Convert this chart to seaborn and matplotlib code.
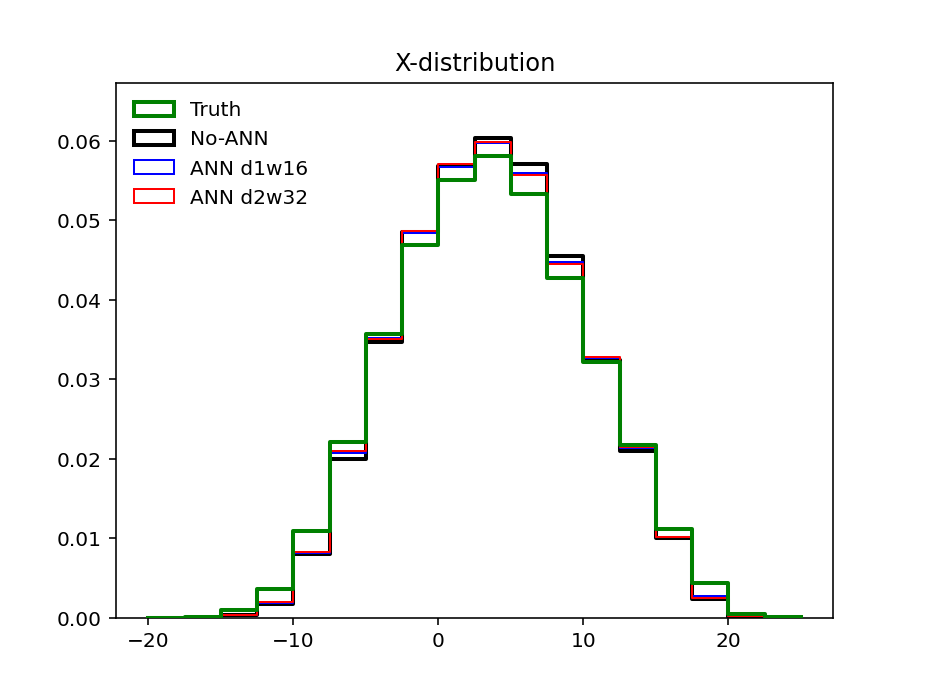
import numpy as np
import pandas as pd
import matplotlib
matplotlib.use("Agg")
import matplotlib.pyplot as plt
import seaborn as sns
from matplotlib.patches import Patch

# bin edges of the X-distribution histograms
edges = list(np.arange(-20, 25.01, 2.5))
centers = [(a + b) / 2 for a, b in zip(edges[:-1], edges[1:])]

# normalised bin contents
truth = [0.0000, 0.0001, 0.0009, 0.0036, 0.0109, 0.0221, 0.0357, 0.0469, 0.0551,
         0.0581, 0.0533, 0.0427, 0.0322, 0.0217, 0.0111, 0.0044, 0.0005, 0.0001]
no_ann = [0.0000, 0.0000, 0.0003, 0.0017, 0.0080, 0.0200, 0.0347, 0.0485, 0.0568,
          0.0604, 0.0571, 0.0455, 0.0324, 0.0210, 0.0100, 0.0023, 0.0001, 0.0000]
ann_d1w16 = [0.0000, 0.0000, 0.0003, 0.0018, 0.0081, 0.0207, 0.0352, 0.0484, 0.0567,
             0.0597, 0.0560, 0.0448, 0.0327, 0.0213, 0.0101, 0.0027, 0.0002, 0.0000]
ann_d2w32 = [0.0000, 0.0000, 0.0003, 0.0019, 0.0083, 0.0210, 0.0350, 0.0487, 0.0571,
             0.0599, 0.0557, 0.0445, 0.0328, 0.0215, 0.0102, 0.0025, 0.0002, 0.0000]

labels = ["Truth", "No-ANN", "ANN d1w16", "ANN d2w32"]
colors = ["green", "black", "blue", "red"]
widths = [2, 2, 1, 1]
series = [truth, no_ann, ann_d1w16, ann_d2w32]

fig, ax = plt.subplots(figsize=(6.4, 4.8), dpi=144.7)

# draw back to front: models first, truth on top
for i in [1, 2, 3, 0]:
    df = pd.DataFrame({"x": centers, "w": series[i]})
    sns.histplot(data=df, x="x", weights="w", bins=edges, element="step",
                 fill=False, color=colors[i], linewidth=widths[i], ax=ax,
                 zorder=3 if i == 0 else 2)

ax.set_xlim(-22.25, 27.25)
ax.set_ylim(0, 0.0673)
ax.set_xlabel("")
ax.set_ylabel("")
ax.set_title("X-distribution")

handles = [Patch(facecolor="none", edgecolor=c, linewidth=w) for c, w in zip(colors, widths)]
ax.legend(handles, labels, loc="upper left", frameon=False)

fig.savefig("out.png", dpi=144.7)
